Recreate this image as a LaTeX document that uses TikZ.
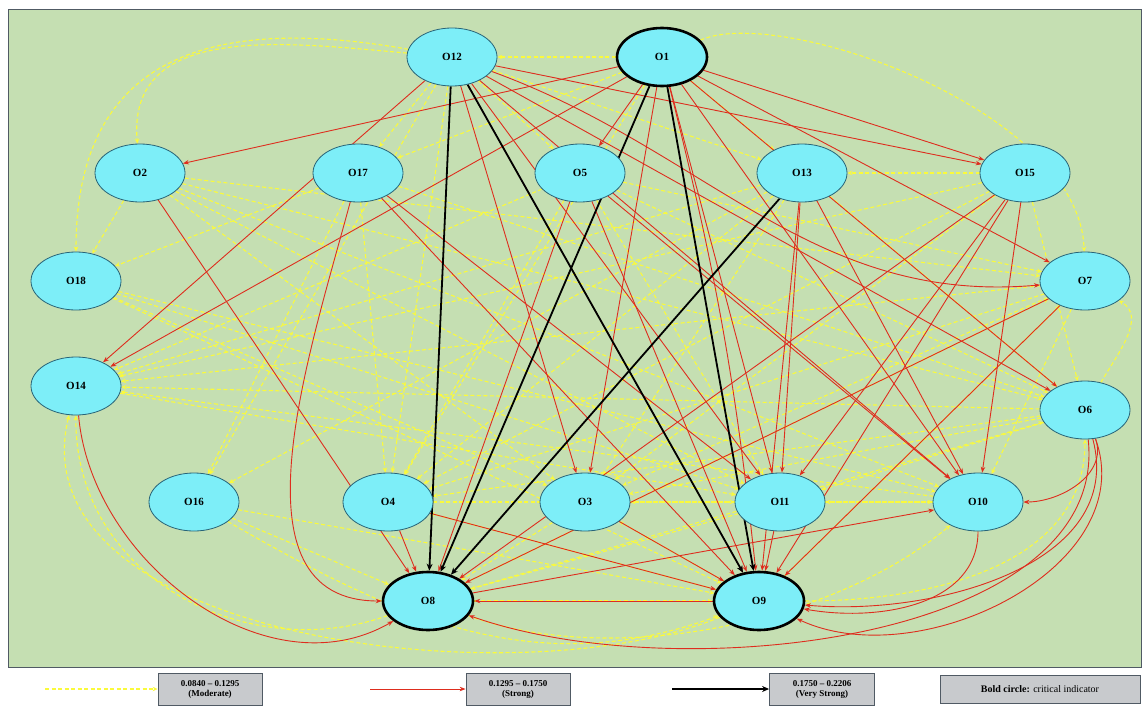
\documentclass[tikz,border=0pt]{standalone}
\usepackage{fontspec}
\setmainfont{Liberation Serif}
\usetikzlibrary{arrows.meta,shapes.geometric}
\pgfdeclarelayer{bg}\pgfdeclarelayer{edges}
\pgfsetlayers{bg,edges,main}
\definecolor{panel}{RGB}{197,223,178}
\definecolor{nodefill}{RGB}{125,238,248}
\definecolor{nodeline}{RGB}{40,100,120}
\definecolor{yel}{RGB}{250,250,60}
\definecolor{redc}{RGB}{222,45,30}
\definecolor{legfill}{RGB}{200,202,205}
\definecolor{legline}{RGB}{80,90,100}
\tikzset{
 obj/.style={ellipse, draw=nodeline, line width=0.8pt, fill=nodefill, minimum width=90pt, minimum height=58pt, inner sep=0pt, font=\fontsize{11}{12}\selectfont\bfseries},
 crit/.style={obj, draw=black, line width=2.6pt},
 yE/.style={draw=yel, line width=1.1pt, dash pattern=on 4pt off 2.5pt, -{Stealth[length=5pt,width=4.5pt]}},
 rE/.style={draw=redc, line width=0.9pt, -{Stealth[length=6pt,width=4.5pt]}},
 bE/.style={draw=black, line width=1.8pt, -{Stealth[length=7pt,width=6pt]}},
 legbox/.style={draw=legline, line width=0.8pt, fill=legfill, align=center, font=\fontsize{9}{10}\selectfont\bfseries, minimum height=32pt, inner sep=1pt},
}
\begin{document}
\begin{tikzpicture}[x=1pt,y=1pt]
\useasboundingbox (0,0) rectangle (1143,-707);
\begin{pgfonlayer}{bg}
\draw[legline, fill=panel, line width=1pt] (8,-9) rectangle (1141,-667);
\end{pgfonlayer}
% nodes
\node[obj]  (o12) at (452,-57) {O12};
\node[crit] (o1)  at (662,-57) {O1};
\node[obj]  (o2)  at (140,-173) {O2};
\node[obj]  (o17) at (358,-173) {O17};
\node[obj]  (o5)  at (580,-173) {O5};
\node[obj]  (o13) at (802,-173) {O13};
\node[obj]  (o15) at (1025,-173) {O15};
\node[obj]  (o18) at (76,-281) {O18};
\node[obj]  (o7)  at (1085,-281) {O7};
\node[obj]  (o14) at (76,-386) {O14};
\node[obj]  (o6)  at (1085,-410) {O6};
\node[obj]  (o16) at (194,-502) {O16};
\node[obj]  (o4)  at (388,-502) {O4};
\node[obj]  (o3)  at (585,-502) {O3};
\node[obj]  (o11) at (780,-502) {O11};
\node[obj]  (o10) at (978,-502) {O10};
\node[crit] (o8)  at (428,-601) {O8};
\node[crit] (o9)  at (759,-601) {O9};
\begin{pgfonlayer}{edges}
\begin{scope}
\clip (9,-10) rectangle (1140,-666);
% yellow straight
\foreach \a/\b in {o1/o12,o1/o13,o1/o17,o12/o17,o12/o5,o15/o13,o2/o6,o2/o7,o2/o10,o2/o11,o2/o3,
  o17/o18,o17/o16,o17/o4,o17/o6,o18/o10,o18/o3,o18/o9,o7/o14,o6/o14,o13/o14,o15/o14,o10/o14,
  o13/o16,o7/o4,o6/o4,o15/o4,o13/o4,o5/o4,o5/o14,o5/o11,o5/o7,o5/o6,o11/o3,o10/o11,o7/o3,o6/o3,
  o13/o3,o15/o3,o13/o6,o15/o6,o16/o9,o16/o8,o3/o8,o11/o8,o4/o10,o4/o11,o8/o9,o9/o3,o9/o4,o8/o6,
  o8/o7,o9/o7,o1/o4,o12/o4,o12/o16,o2/o18,o18/o11,o14/o11,o7/o10,o6/o11,o12/o13}
  \draw[yE] (\a) -- (\b);
% yellow curves
\draw[yE] (o12) to[out=170,in=90,looseness=1.3] (o18);
\draw[yE] (o12) to[out=175,in=95,looseness=1.1] (o2);
\draw[yE] (o1) .. controls (780,-5) and (1080,-110) .. (o7);
\draw[yE] (o8) .. controls (250,-665) and (75,-580) .. (o14);
\draw[yE] (o9) .. controls (520,-700) and (15,-640) .. (o14);
\draw[yE] (o9) to[out=0,in=-90] (o6);
\draw[yE] (o6) to[out=60,in=-30] (o7);
\draw[yE] (o8) to[out=-20,in=-140,looseness=0.8] (o10);
\draw[yE] (o16) to[out=-30,in=-160] (o9);
% red straight
\foreach \a/\b in {o12/o14,o12/o3,o12/o9,o12/o11,o12/o10,o12/o6,o12/o15,o1/o2,o1/o14,o1/o5,o1/o3,
  o1/o11,o1/o10,o1/o6,o1/o7,o1/o15,o2/o8,o17/o11,o4/o8,o4/o9,o5/o8,o5/o9,o5/o10,o13/o11,o13/o10,
  o13/o9,o15/o8,o15/o9,o15/o11,o15/o10,o7/o8,o7/o9,o8/o10,o11/o9,o3/o9,o9/o8,o17/o9}
  \draw[rE] (\a) -- (\b);
% red curves
\draw[rE] (o1) to[bend left=4] (o9);
\draw[rE] (o12) to[out=-20,in=185] (o7);
\draw[rE] (o17) to[out=255,in=180] (o8);
\draw[rE] (o14) to[out=275,in=210] (o8);
\draw[rE] (o6) to[out=290,in=0] (o10);
\draw[rE] (o6) to[out=285,in=-5] (o9);
\draw[rE] (o6) to[out=290,in=-25] (o9);
\draw[rE] (o6) .. controls (1110,-640) and (680,-690) .. (o8);
\draw[rE] (o10) to[out=270,in=-10] (o9);
% black
\draw[bE] (o12) -- (o8);
\draw[bE] (o12) -- (o9);
\draw[bE] (o1) -- (o8);
\draw[bE] (o1) -- (o9);
\draw[bE] (o13) -- (o8);
\end{scope}
\end{pgfonlayer}
% legend
\node[legbox, minimum width=104pt] (l1) at (210,-689) {0.0840 -- 0.1295\\(Moderate)};
\node[legbox, minimum width=104pt] (l2) at (518,-689) {0.1295 -- 0.1750\\(Strong)};
\node[legbox, minimum width=105pt] (l3) at (822,-689) {0.1750 -- 0.2206\\(Very Strong)};
\node[legbox, minimum width=200pt, minimum height=28pt, font=\fontsize{10}{11}\selectfont] (l4) at (1040,-689) {\textbf{Bold circle:} critical indicator};
\coordinate (y0) at (45,-689);
\coordinate (r0) at (370,-689);
\coordinate (k0) at (672,-689);
\draw[yE] (y0) -- (l1.west);
\draw[rE] (r0) -- (l2.west);
\draw[bE] (k0) -- (l3.west);
\end{tikzpicture}
\end{document}
